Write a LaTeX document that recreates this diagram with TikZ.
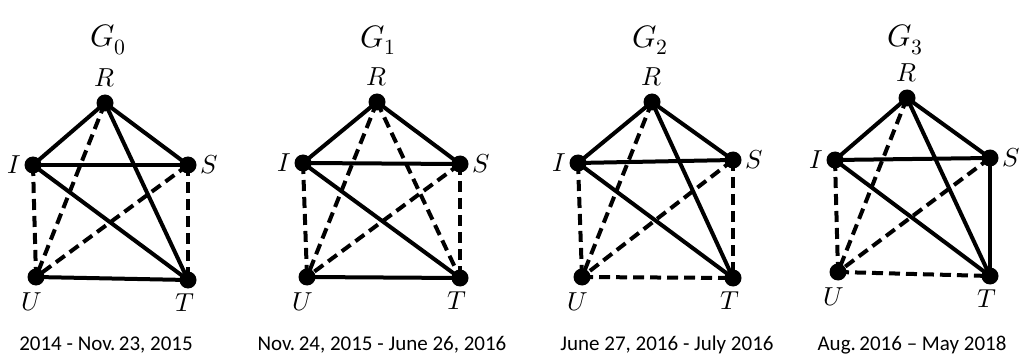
\documentclass[tikz,border=0pt]{standalone}
\usepackage{fontspec}
\setmainfont{Carlito}
\usepackage{unicode-math}
\setmathfont{Latin Modern Math}
\begin{document}
\begin{tikzpicture}[x=1pt,y=-1pt,
  vtx/.style={circle,fill=black,inner sep=0pt,minimum size=17pt},
  sol/.style={line width=4pt},
  dsh/.style={line width=4pt,dash pattern=on 11pt off 6pt},
  lab/.style={font=\fontsize{26}{28}\selectfont,inner sep=0pt},
  ttl/.style={font=\fontsize{31}{34}\selectfont},
  dte/.style={font=\fontsize{21}{24}\selectfont}]
\useasboundingbox (0,0) rectangle (1024,363);
\newcommand{\mygraph}[6]{%
  \node[vtx] (R#6) at (#1) {};
  \node[vtx] (I#6) at (#2) {};
  \node[vtx] (S#6) at (#3) {};
  \node[vtx] (U#6) at (#4) {};
  \node[vtx] (T#6) at (#5) {};}
\mygraph{105,103}{33,165}{188,165}{36,277}{188,280}{a}
\mygraph{377,102}{303,163}{460,164}{307,277}{460,278}{b}
\mygraph{652,102}{578,163}{733,160}{582,277}{733,278}{c}
\mygraph{907,98}{835,160}{990,158}{838,272}{990,276}{d}
% G0
\draw[sol] (Ra.center)--(Ia.center); \draw[sol] (Ra.center)--(Sa.center);
\draw[sol] (Ia.center)--(Sa.center); \draw[dsh] (Ra.center)--(Ua.center);
\draw[sol] (Ra.center)--(Ta.center); \draw[sol] (Ia.center)--(Ta.center);
\draw[dsh] (Sa.center)--(Ua.center); \draw[dsh] (Ia.center)--(Ua.center);
\draw[dsh] (Sa.center)--(Ta.center); \draw[sol] (Ua.center)--(Ta.center);
% G1
\draw[sol] (Rb.center)--(Ib.center); \draw[sol] (Rb.center)--(Sb.center);
\draw[sol] (Ib.center)--(Sb.center); \draw[dsh] (Rb.center)--(Ub.center);
\draw[dsh] (Rb.center)--(Tb.center); \draw[sol] (Ib.center)--(Tb.center);
\draw[dsh] (Sb.center)--(Ub.center); \draw[dsh] (Ib.center)--(Ub.center);
\draw[dsh] (Sb.center)--(Tb.center); \draw[sol] (Ub.center)--(Tb.center);
% G2
\draw[sol] (Rc.center)--(Ic.center); \draw[sol] (Rc.center)--(Sc.center);
\draw[sol] (Ic.center)--(Sc.center); \draw[dsh] (Rc.center)--(Uc.center);
\draw[sol] (Rc.center)--(Tc.center); \draw[sol] (Ic.center)--(Tc.center);
\draw[dsh] (Sc.center)--(Uc.center); \draw[dsh] (Ic.center)--(Uc.center);
\draw[dsh] (Sc.center)--(Tc.center); \draw[dsh] (Uc.center)--(Tc.center);
% G3
\draw[sol] (Rd.center)--(Id.center); \draw[sol] (Rd.center)--(Sd.center);
\draw[sol] (Id.center)--(Sd.center); \draw[dsh] (Rd.center)--(Ud.center);
\draw[sol] (Rd.center)--(Td.center); \draw[sol] (Id.center)--(Td.center);
\draw[dsh] (Sd.center)--(Ud.center); \draw[dsh] (Id.center)--(Ud.center);
\draw[sol] (Sd.center)--(Td.center); \draw[dsh] (Ud.center)--(Td.center);
% vertex labels
\foreach \g in {a,b,c,d}{
  \node[lab] (lR\g) at ([yshift=25pt]R\g.center) {$R$};
  \node[lab] (lI\g) at ([xshift=-19pt]I\g.center) {$I$};
  \node[lab] (lS\g) at ([xshift=21pt]S\g.center) {$S$};
  \node[lab] (lU\g) at ([xshift=-4pt,yshift=-25pt]U\g.center) {$U$};
  \node[lab] (lT\g) at ([xshift=-3pt,yshift=-23pt]T\g.center) {$T$};
}
% titles
\node[ttl] (t0) at (108,40) {$G_0$};
\node[ttl] (t1) at (378,40) {$G_1$};
\node[ttl] (t2) at (650,40) {$G_2$};
\node[ttl] (t3) at (905,40) {$G_3$};
% dates
\node[dte] (d0) at (106,345) {2014 - Nov.\,23, 2015};
\node[dte] (d1) at (382,345) {Nov.\,24, 2015 - June 26, 2016};
\node[dte] (d2) at (667,345) {June 27, 2016 - July 2016};
\node[dte] (d3) at (912,345) {Aug.\,2016 – May 2018};
\end{tikzpicture}
\end{document}
